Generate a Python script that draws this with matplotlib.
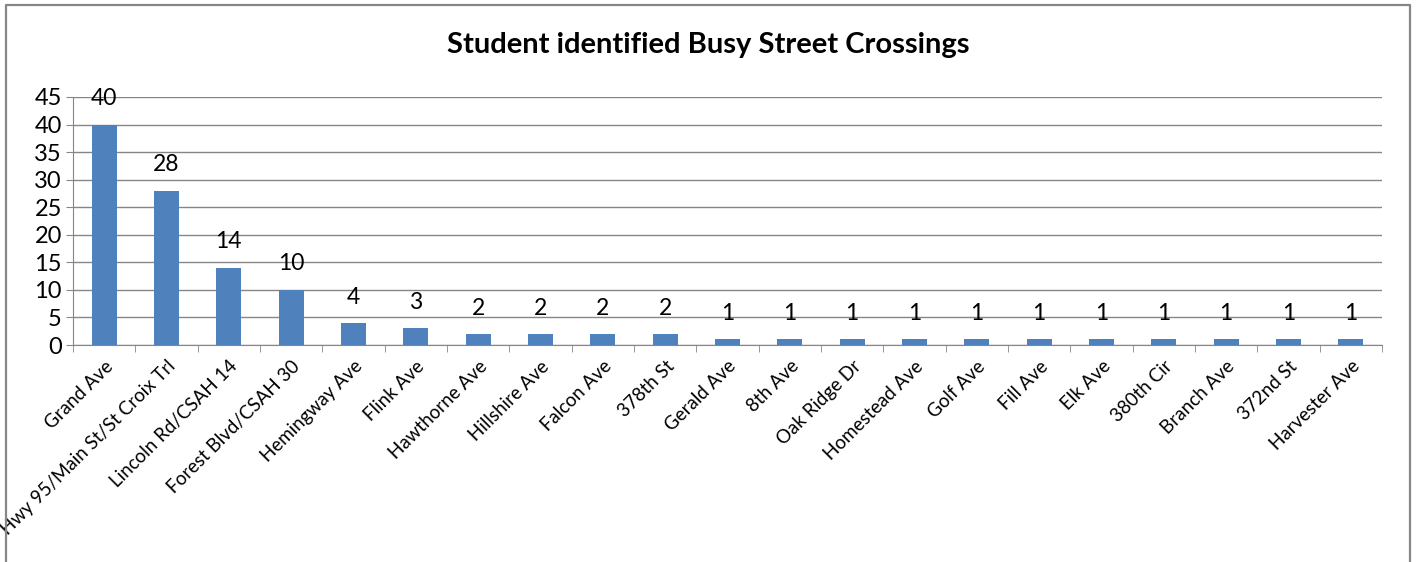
import matplotlib
matplotlib.use("Agg")
import matplotlib.pyplot as plt
from matplotlib.lines import Line2D

streets = ["Grand Ave", "Hwy 95/Main St/St Croix Trl", "Lincoln Rd/CSAH 14",
           "Forest Blvd/CSAH 30", "Hemingway Ave", "Flink Ave", "Hawthorne Ave",
           "Hillshire Ave", "Falcon Ave", "378th St", "Gerald Ave", "8th Ave",
           "Oak Ridge Dr", "Homestead Ave", "Golf Ave", "Fill Ave", "Elk Ave",
           "380th Cir", "Branch Ave", "372nd St", "Harvester Ave"]
counts = [40, 28, 14, 10, 4, 3, 2, 2, 2, 2, 1, 1, 1, 1, 1, 1, 1, 1, 1, 1, 1]
yticks = [0, 5, 10, 15, 20, 25, 30, 35, 40, 45]

plt.rcParams['font.family'] = ['Lato', 'DejaVu Sans']
grey = '#868686'

fig = plt.figure(figsize=(14.16, 5.62), dpi=100)
ax = fig.add_axes([73/1416, 1 - 345/562, (1382 - 73)/1416, (345 - 97)/562])

x = list(range(len(streets)))
bars = ax.bar(x, counts, width=0.4, color='#4F81BD', zorder=3)
for xi, v in zip(x, counts):
    ax.text(xi, v + 4.7, str(v), ha='center', va='center', fontsize=16.5)

ax.set_xlim(-0.5, len(streets) - 0.5)
ax.set_ylim(0, 45)
ax.set_yticks(yticks)
ax.set_yticklabels([str(t) for t in yticks], fontsize=17)
ax.yaxis.grid(True, color=grey, linewidth=1, zorder=0)
ax.tick_params(axis='y', length=5, color=grey, pad=3)

ax.set_xticks(x)
ax.set_xticklabels(streets, rotation=45, ha='right', rotation_mode='anchor', fontsize=13.5)
ax.set_xticks([i - 0.5 for i in range(len(streets) + 1)], minor=True)
ax.tick_params(axis='x', which='major', length=0, pad=9)
ax.tick_params(axis='x', which='minor', length=5, color=grey)

for side in ['top', 'right']:
    ax.spines[side].set_visible(False)
for side in ['left', 'bottom']:
    ax.spines[side].set_color(grey)

fig.text(0.5, 1 - 45/562, "Student identified Busy Street Crossings",
         ha='center', va='center', fontsize=21, fontweight='bold')

# chart frame (top, left, right)
W, H = 1416, 562
fig.add_artist(Line2D([6/W, 6/W, 1410/W, 1410/W], [0, 1 - 5/H, 1 - 5/H, 0],
                      transform=fig.transFigure, color=grey, linewidth=1.6))

fig.savefig("out.png", dpi=100)
